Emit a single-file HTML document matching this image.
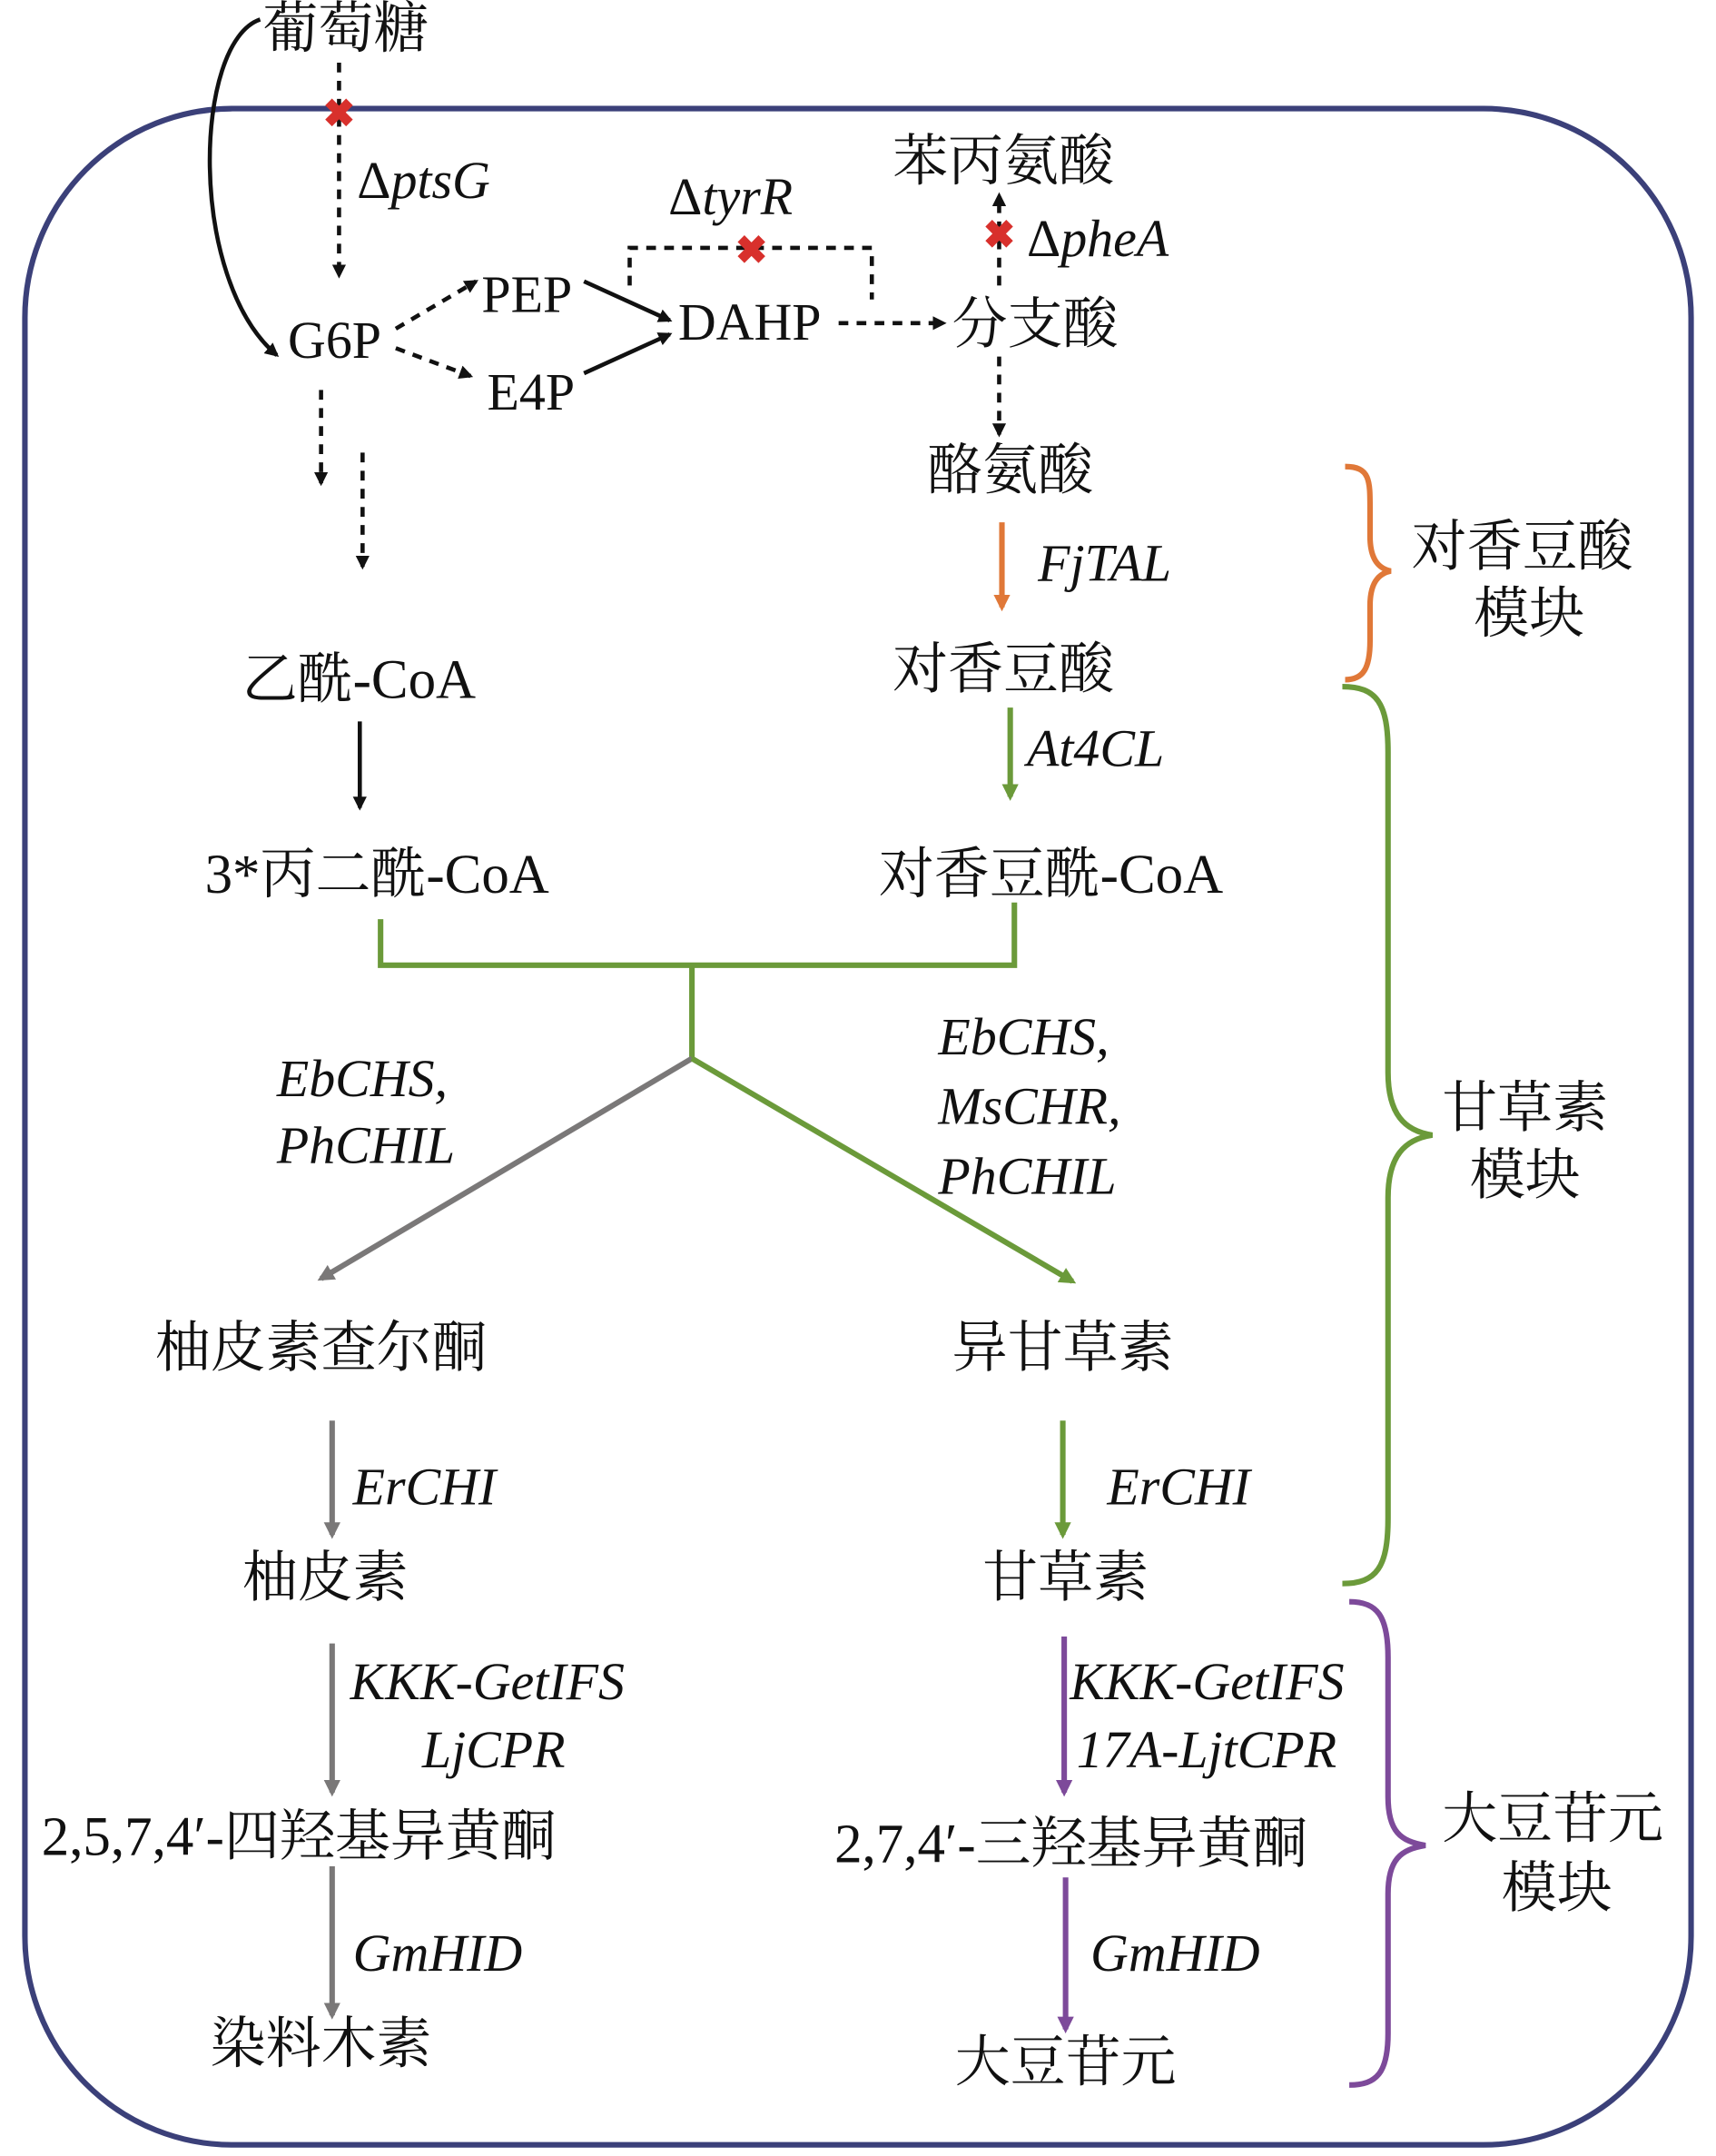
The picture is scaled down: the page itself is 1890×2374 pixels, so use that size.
<!DOCTYPE html>
<html><head><meta charset="utf-8">
<style>
html,body{margin:0;padding:0;background:#fff;}
svg{display:block;}
text{font-family:"Liberation Serif","Noto Serif CJK SC",serif;fill:#111;}
.cn{font-size:40px;}
.lb{font-size:38px;}
.it{font-style:italic;font-size:38px;}
.up{font-style:normal;}
</style></head><body>
<svg width="1890" height="2374" viewBox="0 0 1240 1548" preserveAspectRatio="none" xmlns="http://www.w3.org/2000/svg">
<defs>
<marker id="ak" markerWidth="10" markerHeight="10" refX="8" refY="5" orient="auto" markerUnits="userSpaceOnUse"><path d="M0,0 L10,5 L0,10 z" fill="#111"/></marker>
<marker id="ag" markerWidth="12" markerHeight="12" refX="9" refY="6" orient="auto" markerUnits="userSpaceOnUse"><path d="M0,0 L12,6 L0,12 z" fill="#6b9a3a"/></marker>
<marker id="ay" markerWidth="12" markerHeight="12" refX="9" refY="6" orient="auto" markerUnits="userSpaceOnUse"><path d="M0,0 L12,6 L0,12 z" fill="#7a7878"/></marker>
<marker id="ao" markerWidth="12" markerHeight="12" refX="9" refY="6" orient="auto" markerUnits="userSpaceOnUse"><path d="M0,0 L12,6 L0,12 z" fill="#e07838"/></marker>
<marker id="ap" markerWidth="12" markerHeight="12" refX="9" refY="6" orient="auto" markerUnits="userSpaceOnUse"><path d="M0,0 L12,6 L0,12 z" fill="#7d4a9a"/></marker>
</defs>
<rect x="18" y="78" width="1204" height="1462" rx="150" ry="150" fill="none" stroke="#3b4079" stroke-width="4"/>

<text class="cn" x="190" y="34">葡萄糖</text>
<path d="M188,14 C140,30 135,200 200,255" fill="none" stroke="#111" stroke-width="3" marker-end="url(#ak)"/>
<line x1="245" y1="45" x2="245" y2="198" stroke="#111" stroke-width="3" stroke-dasharray="7,6" marker-end="url(#ak)"/>
<text x="245" y="91" text-anchor="middle" font-size="28" style="fill:#d8302c;font-weight:bold">✖</text>
<text class="it" x="258" y="142"><tspan class="up">Δ</tspan>ptsG</text>
<text class="lb" x="208" y="257">G6P</text>
<line x1="286" y1="236" x2="344" y2="202" stroke="#111" stroke-width="3" stroke-dasharray="7,6" marker-end="url(#ak)"/>
<line x1="286" y1="250" x2="340" y2="270" stroke="#111" stroke-width="3" stroke-dasharray="7,6" marker-end="url(#ak)"/>
<text class="lb" x="348" y="224">PEP</text>
<text class="lb" x="352" y="294">E4P</text>
<line x1="422" y1="202" x2="484" y2="230" stroke="#111" stroke-width="3" marker-end="url(#ak)"/>
<line x1="422" y1="268" x2="484" y2="240" stroke="#111" stroke-width="3" marker-end="url(#ak)"/>
<text class="lb" x="490" y="244">DAHP</text>
<line x1="606" y1="232" x2="682" y2="232" stroke="#111" stroke-width="3" stroke-dasharray="7,6" marker-end="url(#ak)"/>
<text class="cn" x="688" y="246">分支酸</text>
<path d="M455,205 L455,178 L630,178 L630,215" fill="none" stroke="#111" stroke-width="3" stroke-dasharray="7,6"/>
<text x="543" y="189" text-anchor="middle" style="fill:#d8302c;font-weight:bold" font-size="28">✖</text>
<text class="it" x="483" y="154"><tspan class="up">Δ</tspan>tyrR</text>
<text class="cn" x="645" y="129">苯丙氨酸</text>
<line x1="722" y1="205" x2="722" y2="140" stroke="#111" stroke-width="3" stroke-dasharray="7,6" marker-end="url(#ak)"/>
<text x="722" y="178" text-anchor="middle" style="fill:#d8302c;font-weight:bold" font-size="28">✖</text>
<text class="it" x="742" y="184"><tspan class="up">Δ</tspan>pheA</text>
<line x1="722" y1="256" x2="722" y2="312" stroke="#111" stroke-width="3" stroke-dasharray="7,6" marker-end="url(#ak)"/>
<text class="cn" x="670" y="351">酪氨酸</text>
<line x1="232" y1="280" x2="232" y2="347" stroke="#111" stroke-width="3" stroke-dasharray="7,6" marker-end="url(#ak)"/>
<line x1="262" y1="325" x2="262" y2="407" stroke="#111" stroke-width="3" stroke-dasharray="7,6" marker-end="url(#ak)"/>

<line x1="724" y1="375" x2="724" y2="436" stroke="#e07838" stroke-width="4" marker-end="url(#ao)"/>
<text class="it" x="750" y="417">FjTAL</text>
<text class="cn" x="645" y="494">对香豆酸</text>
<text class="cn" x="175" y="501">乙酰-CoA</text>
<line x1="260" y1="518" x2="260" y2="580" stroke="#111" stroke-width="3" marker-end="url(#ak)"/>
<line x1="730" y1="508" x2="730" y2="572" stroke="#6b9a3a" stroke-width="4" marker-end="url(#ag)"/>
<text class="it" x="742" y="550">At4CL</text>
<text class="cn" x="148" y="641">3*丙二酰-CoA</text>
<text class="cn" x="635" y="641">对香豆酰-CoA</text>
<path d="M275,660 L275,693 L733,693 L733,648 M500,693 L500,760" fill="none" stroke="#6b9a3a" stroke-width="4"/>
<line x1="500" y1="760" x2="232" y2="918" stroke="#7a7878" stroke-width="4" marker-end="url(#ay)"/>
<line x1="500" y1="760" x2="775" y2="920" stroke="#6b9a3a" stroke-width="4" marker-end="url(#ag)"/>
<text class="it" x="200" y="787">EbCHS,</text>
<text class="it" x="200" y="835">PhCHIL</text>
<text class="it" x="678" y="757">EbCHS,</text>
<text class="it" x="678" y="807">MsCHR,</text>
<text class="it" x="678" y="857">PhCHIL</text>
<text class="cn" x="112" y="981">柚皮素查尔酮</text>
<text class="cn" x="688" y="981">异甘草素</text>
<line x1="240" y1="1020" x2="240" y2="1102" stroke="#7a7878" stroke-width="4" marker-end="url(#ay)"/>
<text class="it" x="255" y="1080">ErCHI</text>
<line x1="768" y1="1020" x2="768" y2="1102" stroke="#6b9a3a" stroke-width="4" marker-end="url(#ag)"/>
<text class="it" x="800" y="1080">ErCHI</text>
<text class="cn" x="175" y="1146">柚皮素</text>
<text class="cn" x="710" y="1146">甘草素</text>
<line x1="240" y1="1180" x2="240" y2="1287" stroke="#7a7878" stroke-width="4" marker-end="url(#ay)"/>
<text class="it" x="253" y="1220">KKK-GetIFS</text>
<text class="it" x="305" y="1269">LjCPR</text>
<line x1="769" y1="1175" x2="769" y2="1287" stroke="#7d4a9a" stroke-width="4" marker-end="url(#ap)"/>
<text class="it" x="773" y="1220">KKK-GetIFS</text>
<text class="it" x="778" y="1269">17A-LjtCPR</text>
<text class="cn" x="30" y="1332">2,5,7,4′-四羟基异黄酮</text>
<text class="cn" x="603" y="1337">2,7,4′-三羟基异黄酮</text>
<line x1="240" y1="1340" x2="240" y2="1447" stroke="#7a7878" stroke-width="4" marker-end="url(#ay)"/>
<text class="it" x="255" y="1415">GmHID</text>
<line x1="770" y1="1348" x2="770" y2="1457" stroke="#7d4a9a" stroke-width="4" marker-end="url(#ap)"/>
<text class="it" x="788" y="1415">GmHID</text>
<text class="cn" x="152" y="1481">染料木素</text>
<text class="cn" x="690" y="1494">大豆苷元</text>

<path d="M972,335 C990,335 990,345 990,365 L990,385 C990,400 995,408 1005,410 C995,412 990,420 990,435 L990,460 C990,480 985,488 972,488" fill="none" stroke="#e07838" stroke-width="4"/>
<text class="cn" x="1020" y="406">对香豆酸</text>
<text class="cn" x="1065" y="454">模块</text>
<path d="M970,493 C995,493 1003,505 1003,540 L1003,770 C1003,800 1015,812 1035,815 C1015,818 1003,830 1003,860 L1003,1090 C1003,1125 995,1137 970,1137" fill="none" stroke="#6b9a3a" stroke-width="4"/>
<text class="cn" x="1042" y="809">甘草素</text>
<text class="cn" x="1062" y="857">模块</text>
<path d="M975,1150 C995,1150 1003,1160 1003,1190 L1003,1290 C1003,1315 1012,1322 1030,1325 C1012,1328 1003,1335 1003,1360 L1003,1460 C1003,1488 995,1497 975,1497" fill="none" stroke="#7d4a9a" stroke-width="4"/>
<text class="cn" x="1042" y="1319">大豆苷元</text>
<text class="cn" x="1085" y="1369">模块</text>
</svg>
</body></html>
